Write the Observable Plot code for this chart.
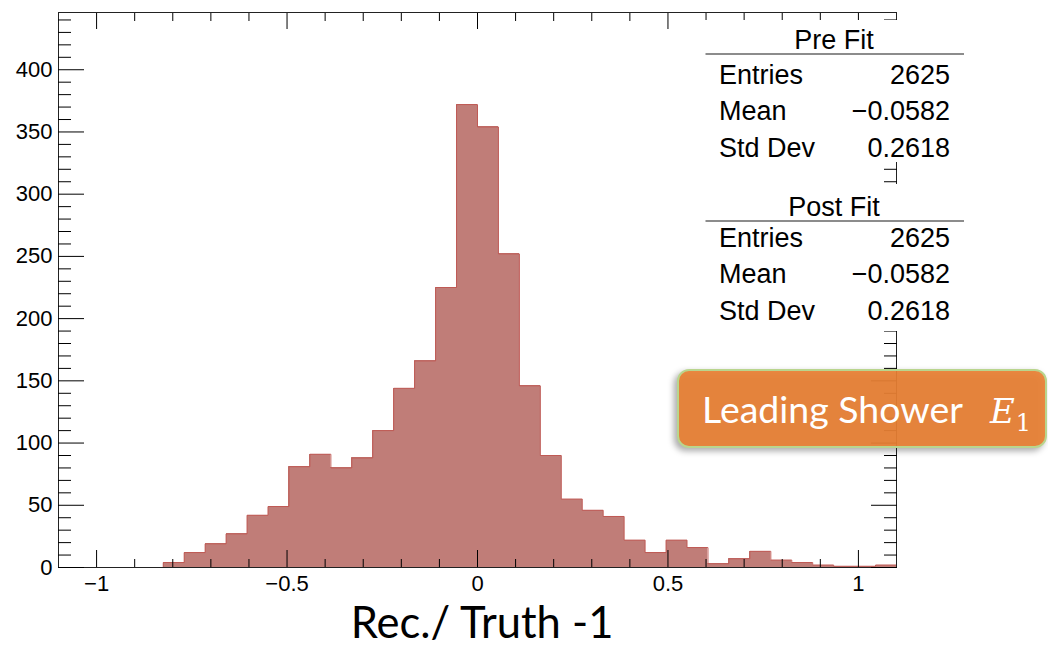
<!DOCTYPE html>
<html><head><meta charset="utf-8">
<script src="https://cdn.jsdelivr.net/npm/d3@7"></script>
<script src="https://cdn.jsdelivr.net/npm/@observablehq/plot@0.6"></script>
<style>
body{margin:0;background:#fff;}
#wrap{position:relative;width:1048px;height:647px;overflow:hidden;}
</style></head><body><div id="wrap"></div>
<script>
// ---- data ----
const binLow = -1.1;
const binHigh = 1.1;
const counts = [0,0,0,0,0,4,12,19,27,42,49,81,91,80,88,110,144,166,225,372,354,252,146,90,55,46,41,22,12,22,16,3,7,13,6,4,2,1,1,2];
const xMajor = [-1,-0.5,0,0.5,1];
const xMinor = [-0.9,-0.8,-0.7,-0.6,-0.4,-0.3,-0.2,-0.1,0.1,0.2,0.3,0.4,0.6,0.7,0.8,0.9];
const yMajor = [0,50,100,150,200,250,300,350,400];
const yMinor = [10,20,30,40,60,70,80,90,110,120,130,140,160,170,180,190,210,220,230,240,260,270,280,290,310,320,330,340,360,370,380,390,410,420,430,440];
const yMax = 446;
const statLabels = ["Entries","Mean","Std Dev"];
const preFitValues = ["2625","\u22120.0582","0.2618"];
const postFitValues = ["2625","\u22120.0582","0.2618"];
const boxTitles = ["Pre Fit","Post Fit"];
const xTitle = "Rec./ Truth -1";
const tagText = "Leading Shower";

const w = (binHigh - binLow) / counts.length;
const bins = counts.map((c, i) => ({x1: binLow + i * w, x2: binLow + (i + 1) * w, y: c}));
const outline = bins.map(b => ({x: b.x1, y: b.y})).concat([{x: binHigh, y: counts[counts.length - 1]}]);
const fmt = d3.format("~g");
const blank = () => "";
const tickFont = "'Liberation Sans', Arial, Helvetica, sans-serif";
const histRed = "#bf5a55";

const chart = Plot.plot({
  width: 1048, height: 647,
  marginLeft: 58, marginRight: 152, marginTop: 12, marginBottom: 80,
  style: {fontFamily: tickFont, fontSize: "22px", color: "#000", background: "transparent"},
  x: {domain: [binLow, binHigh]},
  y: {domain: [0, yMax]},
  marks: [
    Plot.rectY(bins, {x1: "x1", x2: "x2", y: "y", fill: "#c07d78", inset: 0, shapeRendering: "crispEdges"}),
    Plot.line(outline, {x: "x", y: "y", curve: "step-after", stroke: histRed, strokeWidth: 1}),
    Plot.ruleY([0], {stroke: histRed}),
    Plot.frame({stroke: "#222", strokeWidth: 1}),
    // left
    Plot.axisY({anchor: "left", ticks: yMajor, tickSize: 26, dx: 26, tickFormat: blank, label: null}),
    Plot.axisY({anchor: "left", ticks: yMinor, tickSize: 13, dx: 13, tickFormat: blank, label: null}),
    Plot.axisY({anchor: "left", ticks: yMajor, tickSize: 0, tickPadding: 6, fontSize: 22, tickFormat: fmt, label: null}),
    // right
    Plot.axisY({anchor: "right", ticks: yMajor, tickSize: 26, dx: -26, tickFormat: blank, label: null}),
    Plot.axisY({anchor: "right", ticks: yMinor, tickSize: 13, dx: -13, tickFormat: blank, label: null}),
    // bottom
    Plot.axisX({anchor: "bottom", ticks: xMajor, tickSize: 17, dy: -17, tickFormat: blank, label: null}),
    Plot.axisX({anchor: "bottom", ticks: xMinor, tickSize: 8, dy: -8, tickFormat: blank, label: null}),
    Plot.axisX({anchor: "bottom", ticks: xMajor, tickSize: 0, tickPadding: 8, fontSize: 22, tickFormat: fmt, label: null}),
    // top
    Plot.axisX({anchor: "top", ticks: xMajor, tickSize: 16, dy: 16, tickFormat: blank, label: null}),
    Plot.axisX({anchor: "top", ticks: xMinor, tickSize: 8, dy: 8, tickFormat: blank, label: null})
  ]
});
document.getElementById("wrap").appendChild(chart);

// ---- annotations ----
const svg = d3.select(chart);
// enlarge the tick labels drawn by Plot
svg.selectAll("text").style("font-size", "22px").style("font-family", tickFont);

function txt(g, x, y, s, size, anchor, family) {
  return g.append("text").attr("x", x).attr("y", y).text(s)
    .style("font-family", family || tickFont).style("font-size", size + "px")
    .style("text-anchor", anchor || "start").style("fill", "#000");
}
function statsBox(top, bottom, title, titleY, lineY, rowYs, values) {
  const g = svg.append("g");
  g.append("rect").attr("x", 705).attr("y", top).attr("width", 259).attr("height", bottom - top).attr("fill", "#fff");
  txt(g, 834, titleY, title, 27, "middle");
  g.append("line").attr("x1", 705.5).attr("x2", 964).attr("y1", lineY).attr("y2", lineY).attr("stroke", "#666").attr("stroke-width", 1.5);
  statLabels.forEach((lab, i) => {
    txt(g, 719, rowYs[i], lab, 27, "start");
    txt(g, 950, rowYs[i], values[i], 27, "end");
  });
}
statsBox(20, 162, boxTitles[0], 49, 54, [84, 120, 157], preFitValues);
statsBox(184, 331, boxTitles[1], 216, 221, [247, 283, 320], postFitValues);

// x title
txt(svg, 482, 638, xTitle, 43.5, "middle", "Lato, 'Open Sans', sans-serif");

// orange tag
const tag = svg.append("g");
tag.append("rect").attr("x", 678).attr("y", 370).attr("width", 368).attr("height", 77).attr("rx", 11)
  .attr("fill", "rgba(232,128,52,0.93)").attr("stroke", "#b9d58e").attr("stroke-width", 2)
  .style("filter", "drop-shadow(-3px 3px 3px rgba(0,0,0,0.35))");
txt(tag, 702, 423, tagText, 37.5, "start", "Lato, 'Open Sans', sans-serif").style("fill", "#fff");
const math = txt(tag, 990, 423, "", 34, "start", "'DejaVu Serif', 'Liberation Serif', serif").style("fill", "#fff");
math.append("tspan").style("font-style", "italic").text("E");
math.append("tspan").style("font-size", "24px").attr("dy", 8).attr("dx", 1).text("1");
</script>
</body></html>
